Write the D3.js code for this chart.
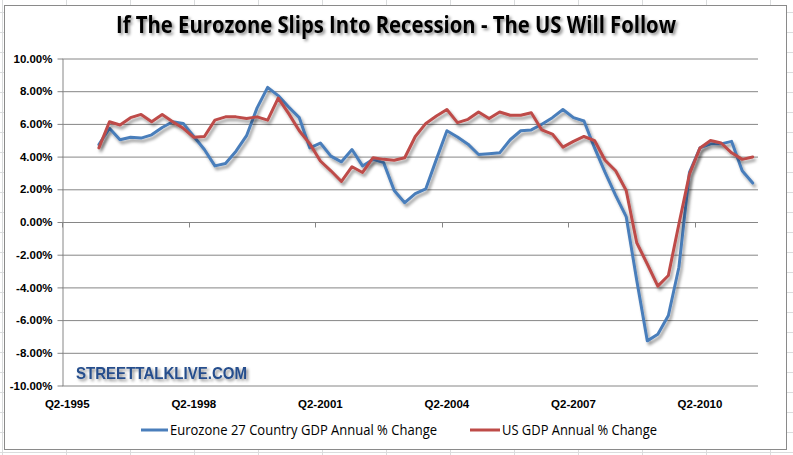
<!DOCTYPE html>
<html><head><meta charset="utf-8">
<script src="https://cdn.jsdelivr.net/npm/d3@7"></script>
<style>html,body{margin:0;padding:0;background:#fff;} svg{display:block}</style>
</head><body>
<svg id="c" width="793" height="455"></svg>
<script>
const quarters = ["Q2-1995","Q3-1995","Q4-1995","Q1-1996","Q2-1996","Q3-1996","Q4-1996","Q1-1997","Q2-1997","Q3-1997","Q4-1997","Q1-1998",
"Q2-1998","Q3-1998","Q4-1998","Q1-1999","Q2-1999","Q3-1999","Q4-1999","Q1-2000","Q2-2000","Q3-2000","Q4-2000","Q1-2001",
"Q2-2001","Q3-2001","Q4-2001","Q1-2002","Q2-2002","Q3-2002","Q4-2002","Q1-2003","Q2-2003","Q3-2003","Q4-2003","Q1-2004",
"Q2-2004","Q3-2004","Q4-2004","Q1-2005","Q2-2005","Q3-2005","Q4-2005","Q1-2006","Q2-2006","Q3-2006","Q4-2006","Q1-2007",
"Q2-2007","Q3-2007","Q4-2007","Q1-2008","Q2-2008","Q3-2008","Q4-2008","Q1-2009","Q2-2009","Q3-2009","Q4-2009","Q1-2010",
"Q2-2010","Q3-2010","Q4-2010","Q1-2011","Q2-2011","Q3-2011"];

const xTickLabels = ["Q2-1995","Q2-1998","Q2-2001","Q2-2004","Q2-2007","Q2-2010"];
const yTickValues = [10, 8, 6, 4, 2, 0, -2, -4, -6, -8, -10];

const eurozoneGDP = [null, null, null,
 4.7, 5.7, 5.0, 5.15, 5.1, 5.3, 5.75, 6.1, 6.0,
 5.2, 4.4, 3.4, 3.55, 4.3, 5.25, 6.95, 8.2, 7.7, 7.0, 6.35, 4.5,
 4.8, 4.0, 3.65, 4.4, 3.4, 3.8, 3.6, 1.9, 1.15, 1.7, 2.0, 3.8,
 5.55, 5.17, 4.73, 4.1, 4.15, 4.2, 5.0, 5.55, 5.6, 5.95, 6.35, 6.85,
 6.35, 6.15, 4.5, 3.0, 1.6, 0.3, -3.6, -7.3, -6.9, -5.75, -2.8, 3.0,
 4.5, 4.75, 4.75, 4.9, 3.1, 2.35];

const usGDP = [null, null, null,
 4.5, 6.1, 5.9, 6.35, 6.55, 6.1, 6.55, 6.1, 5.7,
 5.15, 5.2, 6.2, 6.4, 6.4, 6.3, 6.4, 6.2, 7.55, 6.6, 5.55, 4.75,
 3.7, 3.1, 2.45, 3.35, 3.0, 3.9, 3.8, 3.75, 3.9, 5.2, 6.0, 6.45,
 6.85, 6.05, 6.25, 6.7, 6.3, 6.7, 6.5, 6.5, 6.65, 5.6, 5.35, 4.55,
 4.9, 5.2, 4.95, 3.75, 3.1, 1.9, -1.3, -2.6, -3.95, -3.3, -0.15, 2.9,
 4.5, 4.95, 4.8, 4.2, 3.8, 3.95];

const seriesNames = ["Eurozone 27 Country GDP Annual % Change", "US GDP Annual % Change"];
const seriesColors = ["#4A7EBB", "#BE4B48"];

(function () {
const W = 793, H = 455;
const svg = d3.select("#c");
const defs = svg.append("defs");
const f = defs.append("filter").attr("id","sh").attr("x","-20%").attr("y","-20%").attr("width","140%").attr("height","140%");
f.append("feDropShadow").attr("dx",2).attr("dy",3).attr("stdDeviation",1.6).attr("flood-color","#000").attr("flood-opacity",0.38);
const ft = defs.append("filter").attr("id","tsh").attr("x","-10%").attr("y","-30%").attr("width","120%").attr("height","160%");
ft.append("feDropShadow").attr("dx",2).attr("dy",2).attr("stdDeviation",1.4).attr("flood-color","#000").attr("flood-opacity",0.45);

// spreadsheet background
svg.append("rect").attr("width",W).attr("height",H).attr("fill","#fff");
const sheet = svg.append("g").attr("stroke","#dadcdd").attr("stroke-width",1);
for (let cx = 2.5; cx < W; cx += 64) sheet.append("line").attr("x1",cx).attr("x2",cx).attr("y1",0).attr("y2",H);
for (let ry = 12.5; ry < H; ry += 20) sheet.append("line").attr("x1",0).attr("x2",W).attr("y1",ry).attr("y2",ry);

// chart area
svg.append("rect").attr("x",4.5).attr("y",5.5).attr("width",782).attr("height",444)
  .attr("fill","#fff").attr("stroke","#8a8a8a").attr("stroke-width",1);

const pl = 62, pr = 758, pt = 58, pb = 385;
const x = d3.scaleBand().domain(quarters).range([pl, pr]).padding(0);
const bw = x.bandwidth();
const y = d3.scaleLinear().domain([-10, 10]).range([pb, pt]);

// gridlines
const grid = svg.append("g").attr("transform",`translate(${pl},0.5)`)
  .call(d3.axisLeft(y).tickValues(yTickValues).tickSize(-(pr-pl)).tickFormat(""));
grid.select(".domain").remove();
grid.selectAll("line").attr("stroke","#868686");

// y axis
const ya = svg.append("g").attr("transform",`translate(${pl+0.5},0.5)`)
  .call(d3.axisLeft(y).tickValues(yTickValues).tickSize(5).tickSizeOuter(0).tickPadding(5)
    .tickFormat(d => d.toFixed(2) + "%"));
ya.select(".domain").attr("stroke","#868686");
ya.selectAll("line").attr("stroke","#868686");
ya.selectAll("text").attr("font-family","Liberation Sans, Arial, sans-serif").attr("font-weight","bold")
  .attr("font-size","11.5px").attr("fill","#000");

// x axis at zero
const y0 = Math.round(y(0)) + 0.5;
svg.append("line").attr("x1",pl).attr("x2",pr).attr("y1",y0).attr("y2",y0).attr("stroke","#868686");
svg.append("g").selectAll("line").data(xTickLabels).join("line")
  .attr("x1", d => Math.round(x(d)) + 0.5).attr("x2", d => Math.round(x(d)) + 0.5)
  .attr("y1", y0).attr("y2", y0 + 5).attr("stroke","#868686");
svg.append("g").selectAll("text").data(xTickLabels).join("text")
  .attr("x", d => x(d) + bw/2).attr("y", 408).attr("text-anchor","middle")
  .attr("font-family","Liberation Sans, Arial, sans-serif").attr("font-weight","bold").attr("font-size","11.5px")
  .attr("fill","#000").text(d => d);

// watermark
svg.append("text").attr("x",76).attr("y",379).attr("textLength",171).attr("lengthAdjust","spacingAndGlyphs")
  .attr("font-family","Liberation Sans, Arial, sans-serif").attr("font-weight","bold").attr("font-size","17px")
  .attr("fill","#254E8C").attr("filter","url(#tsh)").text("STREETTALKLIVE.COM");

// lines
const line = d3.line().defined(d => d != null)
  .x((d, i) => x(quarters[i]) + bw/2).y(d => y(d));
[eurozoneGDP, usGDP].forEach((s, k) => {
  svg.append("path").datum(s).attr("d", line).attr("fill","none")
    .attr("stroke", seriesColors[k]).attr("stroke-width", 3)
    .attr("stroke-linejoin","round").attr("stroke-linecap","round").attr("filter","url(#sh)");
});

// title
svg.append("text").attr("x",396).attr("y",33).attr("text-anchor","middle")
  .attr("textLength",560).attr("lengthAdjust","spacingAndGlyphs")
  .attr("font-family","Liberation Sans Narrow, Open Sans, sans-serif").attr("font-weight","bold").attr("font-size","23px")
  .attr("fill","#000").attr("filter","url(#tsh)")
  .text("If The Eurozone Slips Into Recession - The US Will Follow");

// legend
const legendX = [[141, 170, 267], [470, 502, 155]];
seriesNames.forEach((n, k) => {
  svg.append("line").attr("x1",legendX[k][0]).attr("x2",legendX[k][1]-2).attr("y1",430).attr("y2",430)
    .attr("stroke",seriesColors[k]).attr("stroke-width",3);
  svg.append("text").attr("x",legendX[k][1]).attr("y",435).attr("textLength",legendX[k][2]).attr("lengthAdjust","spacingAndGlyphs")
    .attr("font-family","Liberation Sans Narrow, Open Sans, sans-serif").attr("font-size","14px").attr("fill","#000").text(n);
});
})();
</script>
</body></html>
